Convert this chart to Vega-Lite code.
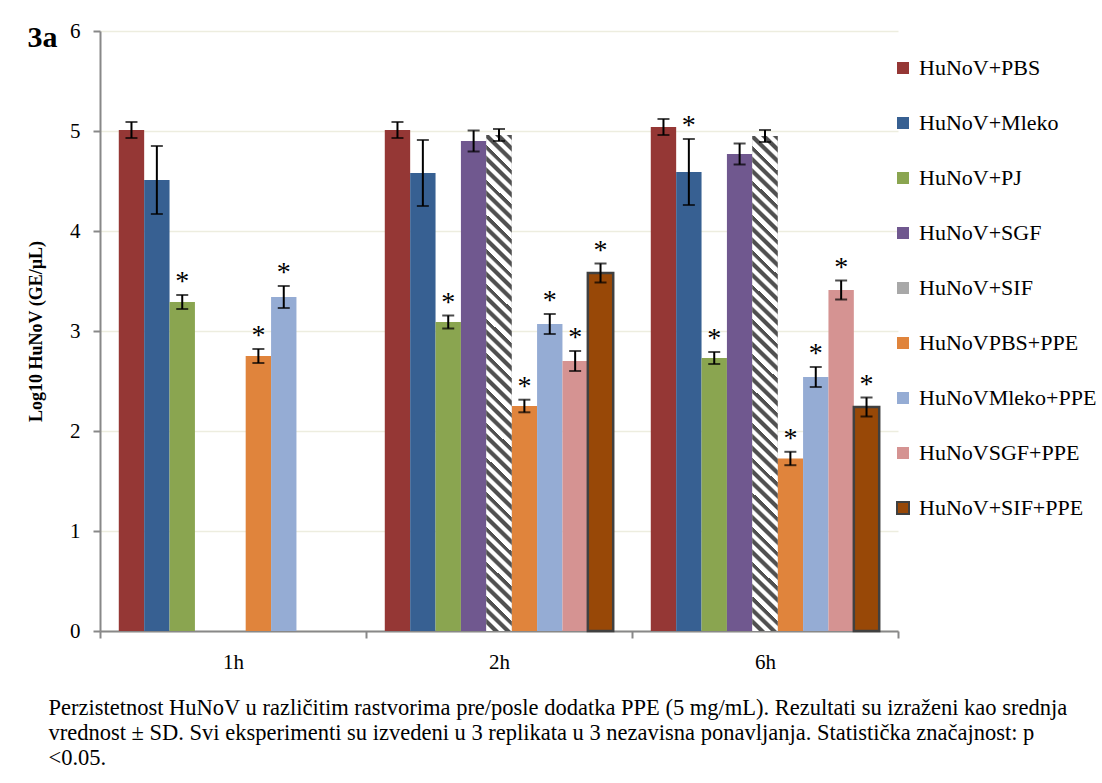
{
  "$schema": "https://vega.github.io/schema/vega-lite/v6.json",
  "width": 798,
  "height": 600,
  "padding": {"left": 27, "top": 20, "right": 0, "bottom": 0},
  "background": "white",
  "title": {
    "text": "3a",
    "anchor": "start",
    "frame": "bounds",
    "orient": "top",
    "offset": -33,
    "font": "Liberation Serif",
    "fontSize": 30,
    "fontWeight": "bold",
    "color": "black"
  },
  "data": {
    "values": [
      {"time": "1h", "series": "HuNoV+PBS", "mean": 5.01, "sd": 0.08, "sig": false},
      {"time": "1h", "series": "HuNoV+Mleko", "mean": 4.51, "sd": 0.34, "sig": false},
      {"time": "1h", "series": "HuNoV+PJ", "mean": 3.29, "sd": 0.07, "sig": true},
      {"time": "1h", "series": "HuNoVPBS+PPE", "mean": 2.75, "sd": 0.07, "sig": true},
      {"time": "1h", "series": "HuNoVMleko+PPE", "mean": 3.34, "sd": 0.11, "sig": true},
      {"time": "2h", "series": "HuNoV+PBS", "mean": 5.01, "sd": 0.08, "sig": false},
      {"time": "2h", "series": "HuNoV+Mleko", "mean": 4.58, "sd": 0.33, "sig": false},
      {"time": "2h", "series": "HuNoV+PJ", "mean": 3.09, "sd": 0.065, "sig": true},
      {"time": "2h", "series": "HuNoV+SGF", "mean": 4.9, "sd": 0.105, "sig": false},
      {"time": "2h", "series": "HuNoV+SIF", "mean": 4.96, "sd": 0.06, "sig": false},
      {"time": "2h", "series": "HuNoVPBS+PPE", "mean": 2.25, "sd": 0.063, "sig": true},
      {"time": "2h", "series": "HuNoVMleko+PPE", "mean": 3.07, "sd": 0.1, "sig": true},
      {"time": "2h", "series": "HuNoVSGF+PPE", "mean": 2.7, "sd": 0.1, "sig": true},
      {"time": "2h", "series": "HuNoV+SIF+PPE", "mean": 3.58, "sd": 0.095, "sig": true},
      {"time": "6h", "series": "HuNoV+PBS", "mean": 5.04, "sd": 0.08, "sig": false},
      {"time": "6h", "series": "HuNoV+Mleko", "mean": 4.59, "sd": 0.33, "sig": true},
      {"time": "6h", "series": "HuNoV+PJ", "mean": 2.73, "sd": 0.06, "sig": true},
      {"time": "6h", "series": "HuNoV+SGF", "mean": 4.77, "sd": 0.105, "sig": false},
      {"time": "6h", "series": "HuNoV+SIF", "mean": 4.95, "sd": 0.06, "sig": false},
      {"time": "6h", "series": "HuNoVPBS+PPE", "mean": 1.725, "sd": 0.067, "sig": true},
      {"time": "6h", "series": "HuNoVMleko+PPE", "mean": 2.54, "sd": 0.1, "sig": true},
      {"time": "6h", "series": "HuNoVSGF+PPE", "mean": 3.41, "sd": 0.095, "sig": true},
      {"time": "6h", "series": "HuNoV+SIF+PPE", "mean": 2.24, "sd": 0.095, "sig": true}
    ]
  },
  "transform": [
    {"calculate": "datum.mean - datum.sd", "as": "lo"},
    {"calculate": "datum.mean + datum.sd", "as": "hi"}
  ],
  "encoding": {
    "x": {
      "field": "time",
      "type": "nominal",
      "scale": {"paddingInner": 0, "paddingOuter": 0},
      "axis": {
        "title": [
          "Perzistetnost  HuNoV u različitim rastvorima pre/posle dodatka PPE (5 mg/mL). Rezultati su izraženi kao srednja",
          "vrednost  ± SD. Svi eksperimenti su izvedeni u 3 replikata u 3 nezavisna  ponavljanja. Statistička značajnost: p",
          "<0.05."
        ],
        "labelAngle": 0,
        "labelFontSize": 21,
        "labelColor": "black",
        "labelPadding": 13,
        "tickBand": "extent",
        "tickSize": 7,
        "tickColor": "#888888",
        "tickWidth": 2,
        "domainColor": "#888888",
        "domainWidth": 2,
        "grid": false,
        "titleAnchor": "start",
        "titleAlign": "left",
        "titleBaseline": "alphabetic",
        "titleX": -52,
        "titleY": 83,
        "titleFontSize": 22.5,
        "titleFontWeight": "normal",
        "titleLineHeight": 25,
        "titleColor": "black",
        "titleLimit": 0
      }
    },
    "xOffset": {
      "field": "series",
      "type": "nominal",
      "scale": {
        "domain": ["HuNoV+PBS", "HuNoV+Mleko", "HuNoV+PJ", "HuNoV+SGF", "HuNoV+SIF", "HuNoVPBS+PPE", "HuNoVMleko+PPE", "HuNoVSGF+PPE", "HuNoV+SIF+PPE"],
        "paddingInner": 0,
        "paddingOuter": 0.74
      }
    }
  },
  "layer": [
    {
      "mark": {"type": "bar", "strokeWidth": 2.5},
      "encoding": {
        "y": {
          "field": "mean",
          "type": "quantitative",
          "scale": {"domain": [0, 6], "nice": false},
          "axis": {
            "title": "Log10 HuNoV (GE/µL)",
            "titleFontSize": 18,
            "titleFontWeight": "bold",
            "titleColor": "black",
            "titlePadding": 24,
            "values": [0, 1, 2, 3, 4, 5, 6],
            "format": "d",
            "labelFontSize": 21,
            "labelColor": "black",
            "labelPadding": 13,
            "tickSize": 7,
            "tickColor": "#888888",
            "tickWidth": 2,
            "domainColor": "#888888",
            "domainWidth": 2,
            "grid": true,
            "gridColor": "#EDEDDF",
            "gridWidth": 1.5
          }
        },
        "color": {
          "field": "series",
          "type": "nominal",
          "scale": {
            "domain": ["HuNoV+PBS", "HuNoV+Mleko", "HuNoV+PJ", "HuNoV+SGF", "HuNoV+SIF", "HuNoVPBS+PPE", "HuNoVMleko+PPE", "HuNoVSGF+PPE", "HuNoV+SIF+PPE"],
            "range": ["#953735", "#376092", "#8AA550", "#70588F", "#A8A8A8", "#E0843C", "#95ACD4", "#D59392", "#984807"]
          },
          "legend": {
            "title": null,
            "orient": "none",
            "legendX": 792,
            "legendY": 26,
            "symbolType": "square",
            "symbolSize": 144,
            "symbolStrokeWidth": 2,
            "labelFontSize": 22,
            "labelColor": "black",
            "labelOffset": 5,
            "labelLimit": 0,
            "rowPadding": 33,
            "padding": 0
          }
        },
        "stroke": {
          "field": "series",
          "type": "nominal",
          "scale": {
            "domain": ["HuNoV+PBS", "HuNoV+Mleko", "HuNoV+PJ", "HuNoV+SGF", "HuNoV+SIF", "HuNoVPBS+PPE", "HuNoVMleko+PPE", "HuNoVSGF+PPE", "HuNoV+SIF+PPE"],
            "range": ["transparent", "transparent", "transparent", "transparent", "transparent", "transparent", "transparent", "transparent", "#404040"]
          },
          "legend": {
            "title": null,
            "orient": "none",
            "legendX": 792,
            "legendY": 26,
            "symbolType": "square",
            "symbolSize": 144,
            "symbolStrokeWidth": 2,
            "labelFontSize": 22,
            "labelColor": "black",
            "labelOffset": 5,
            "labelLimit": 0,
            "rowPadding": 33,
            "padding": 0
          }
        }
      }
    },
    {
      "transform": [{"filter": "datum.series === 'HuNoV+SIF'"}],
      "encoding": {"y": {"field": "mean", "type": "quantitative"}},
      "layer": [
        {"mark": {"type": "bar", "fill": {"gradient": "linear", "x1": 1, "y1": 0, "x2": 0.9476, "y2": 1.0474, "stops": [
          {"offset": 0, "color": "rgba(255,255,255,0)"}, {"offset": 0, "color": "#505050"}, {"offset": 0.0078, "color": "#505050"}, {"offset": 0.0111, "color": "#ffffff"}, {"offset": 0.0189, "color": "#ffffff"}, {"offset": 0.0222, "color": "#505050"}, {"offset": 0.03, "color": "#505050"}, {"offset": 0.0333, "color": "#ffffff"}, {"offset": 0.0411, "color": "#ffffff"}, {"offset": 0.0444, "color": "#505050"}, {"offset": 0.0522, "color": "#505050"}, {"offset": 0.0556, "color": "#ffffff"}, {"offset": 0.0667, "color": "#ffffff"}, {"offset": 0.0667, "color": "rgba(255,255,255,0)"}]}}},
        {"mark": {"type": "bar", "fill": {"gradient": "linear", "x1": 1, "y1": 0, "x2": 0.9476, "y2": 1.0474, "stops": [
          {"offset": 0.0667, "color": "rgba(255,255,255,0)"}, {"offset": 0.0667, "color": "#505050"}, {"offset": 0.0744, "color": "#505050"}, {"offset": 0.0778, "color": "#ffffff"}, {"offset": 0.0856, "color": "#ffffff"}, {"offset": 0.0889, "color": "#505050"}, {"offset": 0.0967, "color": "#505050"}, {"offset": 0.1, "color": "#ffffff"}, {"offset": 0.1078, "color": "#ffffff"}, {"offset": 0.1111, "color": "#505050"}, {"offset": 0.1189, "color": "#505050"}, {"offset": 0.1222, "color": "#ffffff"}, {"offset": 0.1333, "color": "#ffffff"}, {"offset": 0.1333, "color": "rgba(255,255,255,0)"}]}}},
        {"mark": {"type": "bar", "fill": {"gradient": "linear", "x1": 1, "y1": 0, "x2": 0.9476, "y2": 1.0474, "stops": [
          {"offset": 0.1333, "color": "rgba(255,255,255,0)"}, {"offset": 0.1333, "color": "#505050"}, {"offset": 0.1411, "color": "#505050"}, {"offset": 0.1444, "color": "#ffffff"}, {"offset": 0.1522, "color": "#ffffff"}, {"offset": 0.1556, "color": "#505050"}, {"offset": 0.1633, "color": "#505050"}, {"offset": 0.1667, "color": "#ffffff"}, {"offset": 0.1744, "color": "#ffffff"}, {"offset": 0.1778, "color": "#505050"}, {"offset": 0.1856, "color": "#505050"}, {"offset": 0.1889, "color": "#ffffff"}, {"offset": 0.2, "color": "#ffffff"}, {"offset": 0.2, "color": "rgba(255,255,255,0)"}]}}},
        {"mark": {"type": "bar", "fill": {"gradient": "linear", "x1": 1, "y1": 0, "x2": 0.9476, "y2": 1.0474, "stops": [
          {"offset": 0.2, "color": "rgba(255,255,255,0)"}, {"offset": 0.2, "color": "#505050"}, {"offset": 0.2078, "color": "#505050"}, {"offset": 0.2111, "color": "#ffffff"}, {"offset": 0.2189, "color": "#ffffff"}, {"offset": 0.2222, "color": "#505050"}, {"offset": 0.23, "color": "#505050"}, {"offset": 0.2333, "color": "#ffffff"}, {"offset": 0.2411, "color": "#ffffff"}, {"offset": 0.2444, "color": "#505050"}, {"offset": 0.2522, "color": "#505050"}, {"offset": 0.2556, "color": "#ffffff"}, {"offset": 0.2667, "color": "#ffffff"}, {"offset": 0.2667, "color": "rgba(255,255,255,0)"}]}}},
        {"mark": {"type": "bar", "fill": {"gradient": "linear", "x1": 1, "y1": 0, "x2": 0.9476, "y2": 1.0474, "stops": [
          {"offset": 0.2667, "color": "rgba(255,255,255,0)"}, {"offset": 0.2667, "color": "#505050"}, {"offset": 0.2744, "color": "#505050"}, {"offset": 0.2778, "color": "#ffffff"}, {"offset": 0.2856, "color": "#ffffff"}, {"offset": 0.2889, "color": "#505050"}, {"offset": 0.2967, "color": "#505050"}, {"offset": 0.3, "color": "#ffffff"}, {"offset": 0.3078, "color": "#ffffff"}, {"offset": 0.3111, "color": "#505050"}, {"offset": 0.3189, "color": "#505050"}, {"offset": 0.3222, "color": "#ffffff"}, {"offset": 0.3333, "color": "#ffffff"}, {"offset": 0.3333, "color": "rgba(255,255,255,0)"}]}}},
        {"mark": {"type": "bar", "fill": {"gradient": "linear", "x1": 1, "y1": 0, "x2": 0.9476, "y2": 1.0474, "stops": [
          {"offset": 0.3333, "color": "rgba(255,255,255,0)"}, {"offset": 0.3333, "color": "#505050"}, {"offset": 0.3411, "color": "#505050"}, {"offset": 0.3444, "color": "#ffffff"}, {"offset": 0.3522, "color": "#ffffff"}, {"offset": 0.3556, "color": "#505050"}, {"offset": 0.3633, "color": "#505050"}, {"offset": 0.3667, "color": "#ffffff"}, {"offset": 0.3744, "color": "#ffffff"}, {"offset": 0.3778, "color": "#505050"}, {"offset": 0.3856, "color": "#505050"}, {"offset": 0.3889, "color": "#ffffff"}, {"offset": 0.4, "color": "#ffffff"}, {"offset": 0.4, "color": "rgba(255,255,255,0)"}]}}},
        {"mark": {"type": "bar", "fill": {"gradient": "linear", "x1": 1, "y1": 0, "x2": 0.9476, "y2": 1.0474, "stops": [
          {"offset": 0.4, "color": "rgba(255,255,255,0)"}, {"offset": 0.4, "color": "#505050"}, {"offset": 0.4078, "color": "#505050"}, {"offset": 0.4111, "color": "#ffffff"}, {"offset": 0.4189, "color": "#ffffff"}, {"offset": 0.4222, "color": "#505050"}, {"offset": 0.43, "color": "#505050"}, {"offset": 0.4333, "color": "#ffffff"}, {"offset": 0.4411, "color": "#ffffff"}, {"offset": 0.4444, "color": "#505050"}, {"offset": 0.4522, "color": "#505050"}, {"offset": 0.4556, "color": "#ffffff"}, {"offset": 0.4667, "color": "#ffffff"}, {"offset": 0.4667, "color": "rgba(255,255,255,0)"}]}}},
        {"mark": {"type": "bar", "fill": {"gradient": "linear", "x1": 1, "y1": 0, "x2": 0.9476, "y2": 1.0474, "stops": [
          {"offset": 0.4667, "color": "rgba(255,255,255,0)"}, {"offset": 0.4667, "color": "#505050"}, {"offset": 0.4744, "color": "#505050"}, {"offset": 0.4778, "color": "#ffffff"}, {"offset": 0.4856, "color": "#ffffff"}, {"offset": 0.4889, "color": "#505050"}, {"offset": 0.4967, "color": "#505050"}, {"offset": 0.5, "color": "#ffffff"}, {"offset": 0.5078, "color": "#ffffff"}, {"offset": 0.5111, "color": "#505050"}, {"offset": 0.5189, "color": "#505050"}, {"offset": 0.5222, "color": "#ffffff"}, {"offset": 0.5333, "color": "#ffffff"}, {"offset": 0.5333, "color": "rgba(255,255,255,0)"}]}}},
        {"mark": {"type": "bar", "fill": {"gradient": "linear", "x1": 1, "y1": 0, "x2": 0.9476, "y2": 1.0474, "stops": [
          {"offset": 0.5333, "color": "rgba(255,255,255,0)"}, {"offset": 0.5333, "color": "#505050"}, {"offset": 0.5411, "color": "#505050"}, {"offset": 0.5444, "color": "#ffffff"}, {"offset": 0.5522, "color": "#ffffff"}, {"offset": 0.5556, "color": "#505050"}, {"offset": 0.5633, "color": "#505050"}, {"offset": 0.5667, "color": "#ffffff"}, {"offset": 0.5744, "color": "#ffffff"}, {"offset": 0.5778, "color": "#505050"}, {"offset": 0.5856, "color": "#505050"}, {"offset": 0.5889, "color": "#ffffff"}, {"offset": 0.6, "color": "#ffffff"}, {"offset": 0.6, "color": "rgba(255,255,255,0)"}]}}},
        {"mark": {"type": "bar", "fill": {"gradient": "linear", "x1": 1, "y1": 0, "x2": 0.9476, "y2": 1.0474, "stops": [
          {"offset": 0.6, "color": "rgba(255,255,255,0)"}, {"offset": 0.6, "color": "#505050"}, {"offset": 0.6078, "color": "#505050"}, {"offset": 0.6111, "color": "#ffffff"}, {"offset": 0.6189, "color": "#ffffff"}, {"offset": 0.6222, "color": "#505050"}, {"offset": 0.63, "color": "#505050"}, {"offset": 0.6333, "color": "#ffffff"}, {"offset": 0.6411, "color": "#ffffff"}, {"offset": 0.6444, "color": "#505050"}, {"offset": 0.6522, "color": "#505050"}, {"offset": 0.6556, "color": "#ffffff"}, {"offset": 0.6667, "color": "#ffffff"}, {"offset": 0.6667, "color": "rgba(255,255,255,0)"}]}}},
        {"mark": {"type": "bar", "fill": {"gradient": "linear", "x1": 1, "y1": 0, "x2": 0.9476, "y2": 1.0474, "stops": [
          {"offset": 0.6667, "color": "rgba(255,255,255,0)"}, {"offset": 0.6667, "color": "#505050"}, {"offset": 0.6744, "color": "#505050"}, {"offset": 0.6778, "color": "#ffffff"}, {"offset": 0.6856, "color": "#ffffff"}, {"offset": 0.6889, "color": "#505050"}, {"offset": 0.6967, "color": "#505050"}, {"offset": 0.7, "color": "#ffffff"}, {"offset": 0.7078, "color": "#ffffff"}, {"offset": 0.7111, "color": "#505050"}, {"offset": 0.7189, "color": "#505050"}, {"offset": 0.7222, "color": "#ffffff"}, {"offset": 0.7333, "color": "#ffffff"}, {"offset": 0.7333, "color": "rgba(255,255,255,0)"}]}}},
        {"mark": {"type": "bar", "fill": {"gradient": "linear", "x1": 1, "y1": 0, "x2": 0.9476, "y2": 1.0474, "stops": [
          {"offset": 0.7333, "color": "rgba(255,255,255,0)"}, {"offset": 0.7333, "color": "#505050"}, {"offset": 0.7411, "color": "#505050"}, {"offset": 0.7444, "color": "#ffffff"}, {"offset": 0.7522, "color": "#ffffff"}, {"offset": 0.7556, "color": "#505050"}, {"offset": 0.7633, "color": "#505050"}, {"offset": 0.7667, "color": "#ffffff"}, {"offset": 0.7744, "color": "#ffffff"}, {"offset": 0.7778, "color": "#505050"}, {"offset": 0.7856, "color": "#505050"}, {"offset": 0.7889, "color": "#ffffff"}, {"offset": 0.8, "color": "#ffffff"}, {"offset": 0.8, "color": "rgba(255,255,255,0)"}]}}},
        {"mark": {"type": "bar", "fill": {"gradient": "linear", "x1": 1, "y1": 0, "x2": 0.9476, "y2": 1.0474, "stops": [
          {"offset": 0.8, "color": "rgba(255,255,255,0)"}, {"offset": 0.8, "color": "#505050"}, {"offset": 0.8078, "color": "#505050"}, {"offset": 0.8111, "color": "#ffffff"}, {"offset": 0.8189, "color": "#ffffff"}, {"offset": 0.8222, "color": "#505050"}, {"offset": 0.83, "color": "#505050"}, {"offset": 0.8333, "color": "#ffffff"}, {"offset": 0.8411, "color": "#ffffff"}, {"offset": 0.8444, "color": "#505050"}, {"offset": 0.8522, "color": "#505050"}, {"offset": 0.8556, "color": "#ffffff"}, {"offset": 0.8667, "color": "#ffffff"}, {"offset": 0.8667, "color": "rgba(255,255,255,0)"}]}}},
        {"mark": {"type": "bar", "fill": {"gradient": "linear", "x1": 1, "y1": 0, "x2": 0.9476, "y2": 1.0474, "stops": [
          {"offset": 0.8667, "color": "rgba(255,255,255,0)"}, {"offset": 0.8667, "color": "#505050"}, {"offset": 0.8744, "color": "#505050"}, {"offset": 0.8778, "color": "#ffffff"}, {"offset": 0.8856, "color": "#ffffff"}, {"offset": 0.8889, "color": "#505050"}, {"offset": 0.8967, "color": "#505050"}, {"offset": 0.9, "color": "#ffffff"}, {"offset": 0.9078, "color": "#ffffff"}, {"offset": 0.9111, "color": "#505050"}, {"offset": 0.9189, "color": "#505050"}, {"offset": 0.9222, "color": "#ffffff"}, {"offset": 0.9333, "color": "#ffffff"}, {"offset": 0.9333, "color": "rgba(255,255,255,0)"}]}}},
        {"mark": {"type": "bar", "fill": {"gradient": "linear", "x1": 1, "y1": 0, "x2": 0.9476, "y2": 1.0474, "stops": [
          {"offset": 0.9333, "color": "rgba(255,255,255,0)"}, {"offset": 0.9333, "color": "#505050"}, {"offset": 0.9411, "color": "#505050"}, {"offset": 0.9444, "color": "#ffffff"}, {"offset": 0.9522, "color": "#ffffff"}, {"offset": 0.9556, "color": "#505050"}, {"offset": 0.9633, "color": "#505050"}, {"offset": 0.9667, "color": "#ffffff"}, {"offset": 0.9744, "color": "#ffffff"}, {"offset": 0.9778, "color": "#505050"}, {"offset": 0.9856, "color": "#505050"}, {"offset": 0.9889, "color": "#ffffff"}, {"offset": 1, "color": "#ffffff"}]}}}
      ]
    },
    {
      "mark": {"type": "rule", "color": "black", "strokeWidth": 2},
      "encoding": {
        "y": {"field": "lo", "type": "quantitative"},
        "y2": {"field": "hi"}
      }
    },
    {
      "mark": {"type": "tick", "color": "black", "size": 12, "thickness": 2},
      "encoding": {
        "y": {"field": "lo", "type": "quantitative"}
      }
    },
    {
      "mark": {"type": "tick", "color": "black", "size": 12, "thickness": 2},
      "encoding": {
        "y": {"field": "hi", "type": "quantitative"}
      }
    },
    {
      "transform": [{"filter": "datum.sig"}],
      "mark": {"type": "text", "text": "*", "font": "Liberation Serif", "fontSize": 28, "color": "black", "baseline": "alphabetic", "dy": -5},
      "encoding": {
        "y": {"field": "hi", "type": "quantitative"}
      }
    }
  ],
  "config": {
    "font": "Liberation Serif",
    "view": {"stroke": null},
    "axis": {"labelFont": "Liberation Serif", "titleFont": "Liberation Serif"},
    "legend": {"labelFont": "Liberation Serif"}
  }
}
